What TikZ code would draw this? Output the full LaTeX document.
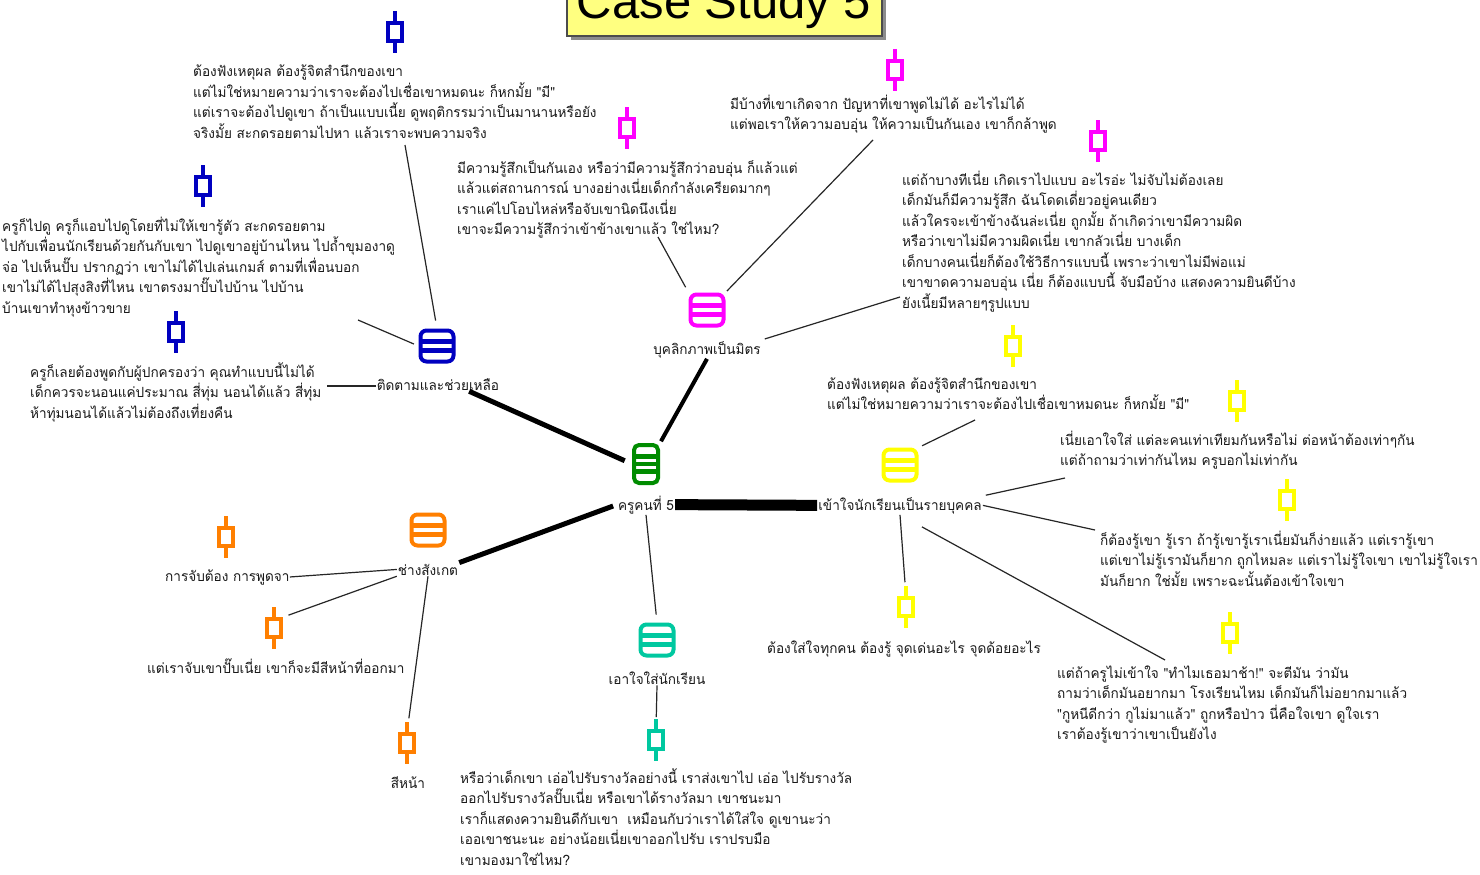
\documentclass[tikz,border=0pt]{standalone}
\usepackage{fontspec}
\setmainfont{Liberation Sans}
\newfontfamily\thai[Script=Thai,FakeStretch=0.97]{Loma}
\usetikzlibrary{calc}
\definecolor{cblue}{HTML}{0000C0}
\definecolor{cmag}{HTML}{FF00FF}
\definecolor{cyel}{HTML}{FFFF00}
\definecolor{cgreen}{HTML}{008C00}
\definecolor{cteal}{HTML}{00C8A0}
\definecolor{corange}{HTML}{FF7F00}
\definecolor{titlefill}{HTML}{FFFF80}
\newcommand\tlines[1]{\vtop{\lineskiplimit=-50pt\relax\halign{##\hfil\cr#1\crcr}}}
\begin{document}
\begin{tikzpicture}[x=1pt,y=-1pt,
  txt/.style={anchor=base west, inner sep=0, font=\thai\fontsize{14}{20.5}\selectfont, text=black!90},
  lbl/.style={anchor=base, inner sep=1, font=\thai\fontsize{14}{16}\selectfont, text=black!90},
  listicon/.style={draw=#1, line width=4, rounded corners=6, minimum width=33, minimum height=31, inner sep=0, fill=white,
    path picture={\foreach \dy in {-4.2,4.2}{\draw[#1, line width=5] ($(path picture bounding box.center)+(-20,\dy)$) -- ++(40,0);}}},
  tallicon/.style={draw=#1, line width=4, rounded corners=5, minimum width=24, minimum height=38, inner sep=0, fill=white,
    path picture={\foreach \dy in {-7.5,0,7.5}{\draw[#1, line width=4.2] ($(path picture bounding box.center)+(-20,\dy)$) -- ++(40,0);}}},
  pinmark/.pic={\draw[line width=3.2] (0,-21) -- (0,21);
    \node[draw, line width=3.6, fill=white, minimum width=14, minimum height=18, inner sep=0] (-box) at (0,0) {};},
  conn/.style={line width=1.2, black!85},
  thickconn/.style={line width=#1, black},
]
\useasboundingbox (0,0) rectangle (1480,875);
\clip (0,0) rectangle (1480,875);
\fill[white] (0,0) rectangle (1480,875);

% title
\fill[black!45] (571,-10) rectangle (886,40);
\draw[black!70, line width=1.2, fill=titlefill] (567,-10) rectangle (882,36);
\node[anchor=base, inner sep=0, font=\fontsize{49}{49}\selectfont] (title) at (724,19) {Case Study 5};

% central
\node[tallicon=cgreen] (gI) at (646,464) {};
\node[lbl] (gL) at (646,510) {ครูคนที่ 5};

% branch icons and labels
\node[listicon=cblue] (bI) at (437,346) {};
\node[lbl] (bL) at (438,390) {ติดตามและช่วยเหลือ};
\node[listicon=cmag] (mI) at (707,310) {};
\node[lbl] (mL) at (707,354) {บุคลิกภาพเป็นมิตร};
\node[listicon=cyel] (yI) at (900,465) {};
\node[lbl] (yL) at (900,510) {เข้าใจนักเรียนเป็นรายบุคคล};
\node[listicon=cteal] (tI) at (657,640) {};
\node[lbl] (tL) at (657,684) {เอาใจใส่นักเรียน};
\node[listicon=corange] (oI) at (428,530) {};
\node[lbl] (oL) at (428,575) {ช่างสังเกต};

% pins
\pic[cblue] (pA) at (395,32) {pinmark};
\pic[cblue] (pB) at (203,186) {pinmark};
\pic[cblue] (pC) at (176,332) {pinmark};
\pic[cmag] (pD) at (627,128) {pinmark};
\pic[cmag] (pE) at (895,70) {pinmark};
\pic[cmag] (pF) at (1098,141) {pinmark};
\pic[cyel] (pG) at (1013,346) {pinmark};
\pic[cyel] (pH) at (1237,401) {pinmark};
\pic[cyel] (pI) at (1287,500) {pinmark};
\pic[cyel] (pJ) at (906,607) {pinmark};
\pic[cyel] (pK) at (1230,633) {pinmark};
\pic[cteal] (pL) at (656,740) {pinmark};
\pic[corange] (pO1) at (226,537) {pinmark};
\pic[corange] (pO2) at (274,628) {pinmark};
\pic[corange] (pO3) at (407,743) {pinmark};

% texts
\node[txt] (A) at (193,77) {\tlines{ต้องฟังเหตุผล ต้องรู้จิตสำนึกของเขา\cr
แต่ไม่ใช่หมายความว่าเราจะต้องไปเชื่อเขาหมดนะ ก็หกมั้ย "มี"\cr
แต่เราจะต้องไปดูเขา ถ้าเป็นแบบเนี้ย ดูพฤติกรรมว่าเป็นมานานหรือยัง\cr
จริงมั้ย สะกดรอยตามไปหา แล้วเราจะพบความจริง}};
\node[txt] (B) at (2,231) {\tlines{ครูก็ไปดู ครูก็แอบไปดูโดยที่ไม่ให้เขารู้ตัว สะกดรอยตาม\cr
ไปกับเพื่อนนักเรียนด้วยกันกับเขา ไปดูเขาอยู่บ้านไหน ไปถ้ำขุมองาดู\cr
จ่อ ไปเห็นปั๊บ ปรากฏว่า เขาไม่ได้ไปเล่นเกมส์ ตามที่เพื่อนบอก\cr
เขาไม่ได้ไปสุงสิงที่ไหน เขาตรงมาปั๊บไปบ้าน ไปบ้าน\cr
บ้านเขาทำหุงข้าวขาย}};
\node[txt] (C) at (30,377) {\tlines{ครูก็เลยต้องพูดกับผู้ปกครองว่า คุณทำแบบนี้ไม่ได้\cr
เด็กควรจะนอนแค่ประมาณ สี่ทุ่ม นอนได้แล้ว สี่ทุ่ม\cr
ห้าทุ่มนอนได้แล้วไม่ต้องถึงเที่ยงคืน}};
\node[txt] (D) at (457,173) {\tlines{มีความรู้สึกเป็นกันเอง หรือว่ามีความรู้สึกว่าอบอุ่น ก็แล้วแต่\cr
แล้วแต่สถานการณ์ บางอย่างเนี่ยเด็กกำลังเครียดมากๆ\cr
เราแค่ไปโอบไหล่หรือจับเขานิดนึงเนี่ย\cr
เขาจะมีความรู้สึกว่าเข้าข้างเขาแล้ว ใช่ไหม?}};
\node[txt] (E) at (730,109) {\tlines{มีบ้างที่เขาเกิดจาก ปัญหาที่เขาพูดไม่ได้ อะไรไม่ได้\cr
แต่พอเราให้ความอบอุ่น ให้ความเป็นกันเอง เขาก็กล้าพูด}};
\node[txt] (F) at (902,185) {\tlines{แต่ถ้าบางทีเนี่ย เกิดเราไปแบบ อะไรอ่ะ ไม่จับไม่ต้องเลย\cr
เด็กมันก็มีความรู้สึก ฉันโดดเดี่ยวอยู่คนเดียว\cr
แล้วใครจะเข้าข้างฉันล่ะเนี่ย ถูกมั้ย ถ้าเกิดว่าเขามีความผิด\cr
หรือว่าเขาไม่มีความผิดเนี่ย เขากลัวเนี่ย บางเด็ก\cr
เด็กบางคนเนี่ยก็ต้องใช้วิธีการแบบนี้ เพราะว่าเขาไม่มีพ่อแม่\cr
เขาขาดความอบอุ่น เนี่ย ก็ต้องแบบนี้ จับมือบ้าง แสดงความยินดีบ้าง\cr
ยังเนี้ยมีหลายๆรูปแบบ}};
\node[txt] (G) at (827,389) {\tlines{ต้องฟังเหตุผล ต้องรู้จิตสำนึกของเขา\cr
แต่ไม่ใช่หมายความว่าเราจะต้องไปเชื่อเขาหมดนะ ก็หกมั้ย "มี"}};
\node[txt] (H) at (1060,445) {\tlines{เนี่ยเอาใจใส่ แต่ละคนเท่าเทียมกันหรือไม่ ต่อหน้าต้องเท่าๆกัน\cr
แต่ถ้าถามว่าเท่ากันไหม ครูบอกไม่เท่ากัน}};
\node[txt] (I) at (1100,545) {\tlines{ก็ต้องรู้เขา รู้เรา ถ้ารู้เขารู้เราเนี่ยมันก็ง่ายแล้ว แต่เรารู้เขา\cr
แต่เขาไม่รู้เรามันก็ยาก ถูกไหมละ แต่เราไม่รู้ใจเขา เขาไม่รู้ใจเรา\cr
มันก็ยาก ใช่มั้ย เพราะฉะนั้นต้องเข้าใจเขา}};
\node[txt] (J) at (767,653) {ต้องใส่ใจทุกคน ต้องรู้ จุดเด่นอะไร จุดด้อยอะไร};
\node[txt] (K) at (1057,678) {\tlines{แต่ถ้าครูไม่เข้าใจ "ทำไมเธอมาช้า!" จะตีมัน ว่ามัน\cr
ถามว่าเด็กมันอยากมา โรงเรียนไหม เด็กมันก็ไม่อยากมาแล้ว\cr
"กูหนีดีกว่า กูไม่มาแล้ว" ถูกหรือป่าว นี่คือใจเขา ดูใจเรา\cr
เราต้องรู้เขาว่าเขาเป็นยังไง}};
\node[txt] (L) at (460,783) {\tlines{หรือว่าเด็กเขา เอ่อไปรับรางวัลอย่างนี้ เราส่งเขาไป เอ่อ ไปรับรางวัล\cr
ออกไปรับรางวัลปั๊บเนี่ย หรือเขาได้รางวัลมา เขาชนะมา\cr
เราก็แสดงความยินดีกับเขา \ เหมือนกับว่าเราได้ใส่ใจ ดูเขานะว่า\cr
เออเขาชนะนะ อย่างน้อยเนี่ยเขาออกไปรับ เราปรบมือ\cr
เขามองมาใช่ไหม?}};
\node[txt] (O1) at (165,581) {การจับต้อง การพูดจา};
\node[txt] (O2) at (147,673) {แต่เราจับเขาปั๊บเนี่ย เขาก็จะมีสีหน้าที่ออกมา};
\node[lbl] (O3) at (408,788) {สีหน้า};

% connector free ends
\coordinate (a1) at (405,145);
\coordinate (b1) at (358,320);
\coordinate (c1) at (327,386);
\coordinate (d1) at (658,237);
\coordinate (e1) at (873,140);
\coordinate (f1) at (900,297);
\coordinate (g1) at (975,420);
\coordinate (h1) at (1065,478);
\coordinate (i1) at (1095,530);
\coordinate (k1) at (1165,660);

% thin connectors
\draw[conn, shorten >=8] (a1) -- (bI.north);
\draw[conn, shorten >=5] (b1) -- (bI.west);
\draw[conn] (c1) -- (c1 -| bL.west);
\draw[conn, shorten >=6] (d1) -- (mI.north west);
\draw[conn, shorten >=2] (e1) -- (mI.north east);
\draw[conn, shorten >=3] (f1) -- (mL.north east);
\draw[conn, shorten >=4] (g1) -- (yI.north east);
\draw[conn, shorten >=3] (h1) -- (yL.north east);
\draw[conn] (i1) -- (yL.east);
\draw[conn, shorten >=14] (yL.south) -- (pJ-box.north);
\draw[conn, shorten <=25] (yL.south) -- (k1);
\draw[conn, shorten >=8] (gL.south) -- (tI.north);
\draw[conn, shorten >=12] (tL.south) -- (pL-box.north);
\draw[conn] (O1.east) -- (oL.west);
\draw[conn, shorten >=6] (oL.south west) -- (pO2-box.north east);
\draw[conn, shorten >=14] (oL.south) -- (pO3-box.north);

% thick connectors
\draw[thickconn=5, shorten >=8] ($(bL.south)!0.5!(bL.south east)$) -- (gI.west);
\draw[thickconn=4, shorten >=2] (mL.south) -- (gI.north east);
\draw[thickconn=11] (gL.east) -- (yL.west);
\draw[thickconn=5, shorten >=4] (oL.north east) -- (gL.west);
\end{tikzpicture}
\end{document}
